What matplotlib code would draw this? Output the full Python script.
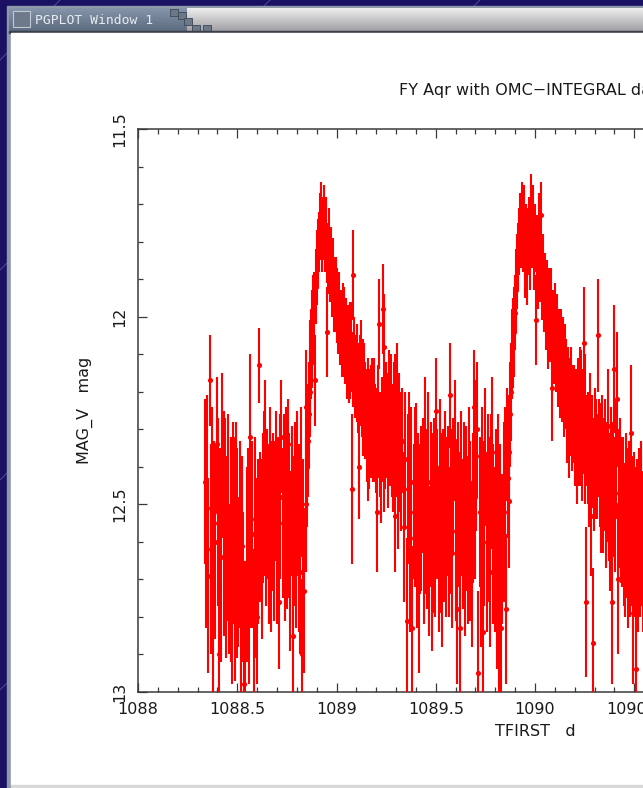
import numpy as np
import matplotlib
matplotlib.use("Agg")
import matplotlib.pyplot as plt
from matplotlib.ticker import MultipleLocator, FixedLocator, FixedFormatter
from matplotlib.patches import Rectangle

# ---------------- data (TFIRST [d], MAG_V [mag], error [mag]) ----------------
low_state_1 = [
    (1088.337, 12.44, 0.22), (1088.343, 12.58, 0.25), (1088.349, 12.51, 0.30), (1088.354, 12.69, 0.26),
    (1088.361, 12.17, 0.12), (1088.366, 12.62, 0.28), (1088.372, 12.48, 0.24), (1088.379, 12.73, 0.30),
    (1088.384, 12.55, 0.22), (1088.390, 12.60, 0.26), (1088.396, 12.34, 0.18), (1088.402, 12.52, 0.25),
    (1088.408, 12.90, 0.20), (1088.413, 12.58, 0.23), (1088.419, 12.64, 0.28), (1088.425, 12.37, 0.22),
    (1088.431, 12.55, 0.30), (1088.437, 12.47, 0.20), (1088.443, 12.66, 0.25), (1088.448, 12.59, 0.22),
    (1088.454, 12.53, 0.27), (1088.460, 12.70, 0.20), (1088.466, 12.62, 0.30), (1088.472, 12.76, 0.22),
    (1088.477, 12.48, 0.20), (1088.483, 12.57, 0.25), (1088.489, 12.77, 0.20), (1088.495, 12.50, 0.22),
    (1088.501, 12.63, 0.28), (1088.506, 12.68, 0.20), (1088.512, 12.58, 0.25), (1088.518, 12.82, 0.22),
    (1088.524, 12.61, 0.24), (1088.530, 12.72, 0.20), (1088.536, 12.98, 0.25), (1088.541, 12.87, 0.22),
    (1088.547, 12.66, 0.26), (1088.553, 12.55, 0.20), (1088.559, 12.74, 0.24), (1088.565, 12.32, 0.22),
    (1088.570, 12.63, 0.20), (1088.576, 12.58, 0.25), (1088.582, 12.82, 0.20), (1088.588, 12.54, 0.22),
    (1088.594, 12.67, 0.24), (1088.600, 12.80, 0.18), (1088.605, 12.60, 0.22), (1088.611, 12.13, 0.10),
    (1088.617, 12.56, 0.20), (1088.623, 12.62, 0.24), (1088.629, 12.51, 0.20), (1088.634, 12.47, 0.22),
    (1088.640, 12.35, 0.18), (1088.646, 12.55, 0.22), (1088.652, 12.50, 0.20), (1088.658, 12.58, 0.24),
    (1088.664, 12.44, 0.20), (1088.669, 12.62, 0.22), (1088.675, 12.53, 0.20), (1088.681, 12.49, 0.18),
    (1088.687, 12.57, 0.24), (1088.693, 12.45, 0.20), (1088.699, 12.60, 0.22), (1088.704, 12.52, 0.20),
    (1088.710, 12.76, 0.18), (1088.716, 12.48, 0.22), (1088.722, 12.32, 0.15), (1088.728, 12.55, 0.20),
    (1088.734, 12.50, 0.24), (1088.739, 12.61, 0.20), (1088.745, 12.46, 0.22), (1088.751, 12.58, 0.20),
    (1088.757, 12.34, 0.12), (1088.763, 12.53, 0.22), (1088.768, 12.65, 0.24), (1088.774, 12.49, 0.20),
    (1088.780, 12.85, 0.22), (1088.786, 12.57, 0.20), (1088.792, 12.52, 0.24), (1088.798, 12.63, 0.20),
    (1088.803, 12.47, 0.22), (1088.809, 12.59, 0.25), (1088.815, 12.68, 0.22), (1088.821, 12.44, 0.20),
    (1088.827, 12.90, 0.20), (1088.833, 12.62, 0.24), (1088.838, 12.73, 0.22),
]

rise_1 = [
    (1088.844, 12.50, 0.18), (1088.847, 12.24, 0.15), (1088.850, 12.40, 0.16), (1088.855, 12.33, 0.15),
    (1088.859, 12.26, 0.14), (1088.864, 12.20, 0.12), (1088.869, 12.15, 0.14), (1088.873, 12.10, 0.12),
    (1088.878, 12.06, 0.13), (1088.883, 12.01, 0.12), (1088.888, 11.98, 0.10), (1088.893, 12.17, 0.12),
    (1088.897, 11.92, 0.10), (1088.902, 11.87, 0.10), (1088.907, 11.83, 0.09), (1088.912, 11.80, 0.08),
    (1088.917, 11.76, 0.09), (1088.922, 11.72, 0.08), (1088.927, 11.78, 0.10),
]

decline_1 = [
    (1088.930, 11.77, 0.08), (1088.935, 11.74, 0.09), (1088.940, 11.80, 0.08), (1088.945, 11.78, 0.10),
    (1088.950, 11.83, 0.08), (1088.953, 12.04, 0.12), (1088.955, 11.85, 0.09), (1088.960, 11.81, 0.10),
    (1088.965, 11.88, 0.08), (1088.970, 11.86, 0.10), (1088.975, 11.91, 0.09), (1088.980, 11.89, 0.10),
    (1088.985, 11.95, 0.09), (1088.990, 11.94, 0.10), (1088.995, 11.92, 0.08), (1089.000, 11.97, 0.10),
    (1089.005, 11.96, 0.09), (1089.010, 12.00, 0.10), (1089.015, 11.99, 0.11), (1089.020, 12.03, 0.10),
    (1089.025, 12.02, 0.09), (1089.030, 12.05, 0.11), (1089.035, 12.01, 0.10), (1089.040, 12.04, 0.12),
    (1089.045, 12.08, 0.10), (1089.050, 12.06, 0.11), (1089.055, 12.10, 0.12), (1089.060, 12.07, 0.10),
    (1089.065, 12.12, 0.11), (1089.070, 12.09, 0.13), (1089.075, 12.08, 0.12), (1089.078, 12.46, 0.20),
    (1089.082, 12.14, 0.10), (1089.085, 11.89, 0.12), (1089.090, 12.12, 0.12), (1089.095, 12.16, 0.11),
    (1089.101, 12.15, 0.13), (1089.106, 12.19, 0.12), (1089.111, 12.40, 0.14), (1089.116, 12.17, 0.12),
    (1089.121, 12.14, 0.13), (1089.126, 12.20, 0.12), (1089.131, 12.23, 0.14), (1089.136, 12.18, 0.12),
    (1089.141, 12.22, 0.15), (1089.146, 12.25, 0.13), (1089.151, 12.26, 0.12), (1089.156, 12.29, 0.15),
    (1089.158, 12.35, 0.14), (1089.161, 12.24, 0.13), (1089.166, 12.32, 0.14), (1089.171, 12.27, 0.13),
    (1089.176, 12.28, 0.15), (1089.181, 12.24, 0.13), (1089.186, 12.30, 0.14), (1089.191, 12.26, 0.15),
    (1089.196, 12.31, 0.13), (1089.201, 12.33, 0.14), (1089.206, 12.52, 0.16), (1089.211, 12.28, 0.15),
    (1089.216, 12.02, 0.12), (1089.221, 12.34, 0.14), (1089.226, 12.40, 0.15), (1089.231, 12.30, 0.14),
    (1089.236, 11.98, 0.12), (1089.238, 12.08, 0.14), (1089.241, 12.37, 0.15), (1089.246, 12.33, 0.13),
    (1089.251, 12.27, 0.15), (1089.256, 12.29, 0.14), (1089.261, 12.35, 0.16), (1089.266, 12.24, 0.15),
    (1089.271, 12.31, 0.14), (1089.276, 12.26, 0.16), (1089.281, 12.33, 0.15), (1089.286, 12.38, 0.14),
    (1089.291, 12.28, 0.16), (1089.293, 12.53, 0.15), (1089.296, 12.25, 0.15), (1089.301, 12.34, 0.14),
    (1089.307, 12.22, 0.15), (1089.312, 12.46, 0.16), (1089.317, 12.30, 0.15), (1089.322, 12.36, 0.16),
    (1089.327, 12.42, 0.15), (1089.332, 12.33, 0.14),
]

low_state_2 = [
    (1089.342, 12.56, 0.20), (1089.347, 12.38, 0.18), (1089.353, 12.81, 0.22), (1089.359, 12.46, 0.20),
    (1089.365, 12.36, 0.16), (1089.370, 12.59, 0.25), (1089.376, 12.44, 0.20), (1089.382, 12.83, 0.22),
    (1089.388, 12.52, 0.18), (1089.393, 12.48, 0.24), (1089.399, 12.43, 0.20), (1089.405, 12.61, 0.22),
    (1089.411, 12.49, 0.18), (1089.416, 12.70, 0.25), (1089.422, 12.54, 0.20), (1089.428, 12.51, 0.22),
    (1089.434, 12.45, 0.18), (1089.439, 12.58, 0.24), (1089.445, 12.36, 0.20), (1089.451, 12.52, 0.22),
    (1089.457, 12.60, 0.18), (1089.462, 12.44, 0.24), (1089.468, 12.65, 0.20), (1089.474, 12.50, 0.22),
    (1089.480, 12.71, 0.18), (1089.485, 12.55, 0.24), (1089.491, 12.47, 0.20), (1089.497, 12.58, 0.22),
    (1089.503, 12.25, 0.14), (1089.508, 12.50, 0.20), (1089.514, 12.62, 0.22), (1089.520, 12.40, 0.18),
    (1089.526, 12.55, 0.24), (1089.531, 12.68, 0.20), (1089.537, 12.52, 0.22), (1089.543, 12.58, 0.18),
    (1089.549, 12.45, 0.20), (1089.554, 12.56, 0.24), (1089.560, 12.49, 0.20), (1089.566, 12.60, 0.20),
    (1089.572, 12.21, 0.14), (1089.577, 12.52, 0.22), (1089.583, 12.63, 0.20), (1089.589, 12.45, 0.18),
    (1089.595, 12.33, 0.16), (1089.600, 12.57, 0.24), (1089.606, 12.78, 0.20), (1089.612, 12.50, 0.22),
    (1089.618, 12.54, 0.18), (1089.623, 12.83, 0.20), (1089.629, 12.47, 0.22), (1089.635, 12.58, 0.20),
    (1089.641, 12.52, 0.24), (1089.646, 12.63, 0.22), (1089.652, 12.49, 0.20), (1089.658, 12.55, 0.18),
    (1089.664, 12.60, 0.22), (1089.669, 12.44, 0.20), (1089.675, 12.57, 0.24), (1089.681, 12.66, 0.22),
    (1089.687, 12.51, 0.20), (1089.692, 12.24, 0.15), (1089.698, 12.48, 0.22), (1089.704, 12.37, 0.20),
    (1089.710, 12.30, 0.18), (1089.715, 12.95, 0.22), (1089.721, 12.52, 0.20), (1089.727, 12.66, 0.22),
    (1089.733, 12.48, 0.24), (1089.738, 12.84, 0.20), (1089.744, 12.55, 0.22), (1089.750, 12.37, 0.18),
    (1089.756, 12.60, 0.24), (1089.761, 12.46, 0.20), (1089.767, 12.54, 0.22), (1089.773, 12.68, 0.20),
    (1089.779, 12.44, 0.18), (1089.784, 12.36, 0.20), (1089.790, 12.58, 0.24), (1089.796, 12.62, 0.22),
    (1089.802, 12.50, 0.20), (1089.807, 12.72, 0.22), (1089.813, 12.44, 0.18), (1089.819, 12.80, 0.22),
    (1089.825, 12.54, 0.20), (1089.830, 12.83, 0.22), (1089.836, 12.62, 0.20), (1089.842, 12.52, 0.24),
    (1089.848, 12.46, 0.22), (1089.853, 12.78, 0.20),
]

rise_2 = [
    (1089.859, 12.34, 0.15), (1089.863, 12.43, 0.16), (1089.867, 12.36, 0.15), (1089.871, 12.49, 0.18),
    (1089.876, 12.26, 0.14), (1089.881, 12.20, 0.13), (1089.886, 12.10, 0.12), (1089.891, 12.07, 0.12),
    (1089.895, 12.04, 0.12), (1089.899, 11.99, 0.10), (1089.904, 11.93, 0.11), (1089.908, 11.88, 0.10),
    (1089.912, 11.84, 0.09), (1089.917, 11.80, 0.09), (1089.922, 11.75, 0.08), (1089.927, 11.78, 0.09),
    (1089.932, 11.72, 0.08), (1089.937, 11.76, 0.09), (1089.942, 11.80, 0.08), (1089.947, 11.74, 0.09),
    (1089.952, 11.85, 0.10), (1089.957, 11.78, 0.08), (1089.962, 11.87, 0.10), (1089.967, 11.80, 0.09),
    (1089.972, 11.76, 0.08), (1089.977, 11.83, 0.10), (1089.982, 11.71, 0.09),
]

decline_2 = [
    (1089.987, 11.78, 0.09), (1089.991, 11.73, 0.08), (1089.995, 11.83, 0.10), (1090.000, 11.79, 0.09),
    (1090.005, 12.01, 0.12), (1090.010, 11.82, 0.09), (1090.015, 11.88, 0.10), (1090.020, 11.75, 0.08),
    (1090.025, 11.86, 0.10), (1090.030, 11.73, 0.09), (1090.035, 11.91, 0.10), (1090.040, 11.89, 0.11),
    (1090.045, 11.94, 0.10), (1090.050, 11.92, 0.09), (1090.055, 11.98, 0.11), (1090.060, 11.95, 0.10),
    (1090.065, 12.03, 0.11), (1090.070, 11.99, 0.12), (1090.075, 12.02, 0.10), (1090.080, 11.98, 0.11),
    (1090.085, 12.19, 0.14), (1090.090, 12.04, 0.11), (1090.095, 12.06, 0.12), (1090.101, 12.01, 0.10),
    (1090.106, 12.08, 0.12), (1090.111, 12.05, 0.11), (1090.116, 12.12, 0.12), (1090.121, 12.09, 0.11),
    (1090.126, 12.14, 0.13), (1090.131, 12.10, 0.12), (1090.136, 12.16, 0.12), (1090.141, 12.13, 0.13),
    (1090.146, 12.20, 0.12), (1090.151, 12.15, 0.13), (1090.156, 12.18, 0.12), (1090.161, 12.25, 0.14),
    (1090.166, 12.21, 0.13), (1090.171, 12.29, 0.14), (1090.176, 12.24, 0.13), (1090.181, 12.20, 0.12),
    (1090.186, 12.27, 0.14), (1090.191, 12.26, 0.13), (1090.196, 12.25, 0.12), (1090.201, 12.31, 0.14),
    (1090.206, 12.29, 0.15), (1090.211, 12.36, 0.14), (1090.216, 12.24, 0.13), (1090.221, 12.30, 0.15),
    (1090.226, 12.22, 0.14), (1090.231, 12.27, 0.18), (1090.236, 12.34, 0.15), (1090.241, 12.28, 0.14),
    (1090.246, 12.07, 0.15), (1090.251, 12.30, 0.20), (1090.256, 12.76, 0.20), (1090.261, 12.33, 0.12),
    (1090.266, 12.35, 0.15), (1090.271, 12.40, 0.16), (1090.276, 12.29, 0.14), (1090.281, 12.53, 0.16),
    (1090.286, 12.36, 0.15), (1090.291, 12.87, 0.20), (1090.296, 12.42, 0.15), (1090.301, 12.33, 0.14),
    (1090.307, 12.38, 0.16), (1090.312, 12.40, 0.14), (1090.317, 12.05, 0.15), (1090.322, 12.35, 0.13),
    (1090.327, 12.40, 0.16), (1090.332, 12.43, 0.20), (1090.337, 12.36, 0.15), (1090.342, 12.47, 0.16),
    (1090.347, 12.42, 0.15), (1090.352, 12.38, 0.16), (1090.357, 12.50, 0.17), (1090.362, 12.44, 0.16),
    (1090.367, 12.29, 0.15), (1090.372, 12.48, 0.17), (1090.377, 12.55, 0.18), (1090.382, 12.40, 0.16),
    (1090.387, 12.76, 0.22), (1090.392, 12.46, 0.18), (1090.397, 12.14, 0.17), (1090.402, 12.50, 0.18),
    (1090.407, 12.38, 0.16), (1090.412, 12.22, 0.18), (1090.417, 12.70, 0.20), (1090.422, 12.47, 0.17),
    (1090.427, 12.47, 0.20), (1090.432, 12.53, 0.18), (1090.437, 12.52, 0.20), (1090.442, 12.50, 0.18),
    (1090.447, 12.58, 0.19), (1090.452, 12.62, 0.18), (1090.457, 12.48, 0.17), (1090.462, 12.55, 0.20),
    (1090.467, 12.65, 0.18), (1090.472, 12.52, 0.19), (1090.477, 12.60, 0.20), (1090.482, 12.31, 0.18),
    (1090.487, 12.57, 0.20), (1090.492, 12.79, 0.19), (1090.497, 12.54, 0.18), (1090.502, 12.60, 0.20),
    (1090.507, 12.94, 0.19), (1090.512, 12.58, 0.20), (1090.517, 12.66, 0.18), (1090.522, 12.55, 0.20),
    (1090.527, 12.61, 0.19), (1090.532, 12.53, 0.20), (1090.537, 12.59, 0.18), (1090.542, 12.64, 0.20),
    (1090.547, 12.56, 0.19),
]

segments = [low_state_1, rise_1, decline_1, low_state_2, rise_2, decline_2]

x_major = [1088, 1088.5, 1089, 1089.5, 1090, 1090.5, 1091, 1091.5, 1092]
x_labels = ["1088", "1088.5", "1089", "1089.5", "1090", "1090.5", "1091", "1091.5", "1092"]
y_major = [11.5, 12, 12.5, 13]
y_labels = ["11.5", "12", "12.5", "13"]

title_text = "FY Aqr with OMC\u2212INTEGRAL data"
xlabel_text = "TFIRST   d"
ylabel_text = "MAG_V   mag"
window_title = "PGPLOT Window 1"

# ---------------- figure ----------------
W, H = 643, 788
fig = plt.figure(figsize=(W / 100, H / 100), dpi=100)

# window decoration in pixel coordinates
bg = fig.add_axes([0, 0, 1, 1], zorder=0)
bg.set_xlim(0, W)
bg.set_ylim(H, 0)
bg.axis("off")
bg.add_patch(Rectangle((0, 0), W, H, color="#1b1163", zorder=0))
for k in range(-6, 8):
    x0 = k * 210
    bg.plot([x0, x0 + 900], [900, 0], color="#4c4aa0", lw=0.7, zorder=0.5)
# frame
bg.add_patch(Rectangle((7, 6), W, H, color="#8d99a8", zorder=1))
# title bar gradient
bar_h, bar_w = 24, W - 9
rows = np.linspace(0, 1, bar_h)[:, None]
cols = np.arange(bar_w)[None, :]
left_top = np.array([0.52, 0.58, 0.66])
left_bot = np.array([0.36, 0.42, 0.50])
right_top = np.array([0.93, 0.93, 0.93])
right_bot = np.array([0.62, 0.62, 0.64])
left = left_top[None, None, :] * (1 - rows[..., None]) + left_bot[None, None, :] * rows[..., None]
right = right_top[None, None, :] * (1 - rows[..., None]) + right_bot[None, None, :] * rows[..., None]
mask = (cols >= 178)[..., None]
img = np.where(mask, right, left) * np.ones((bar_h, bar_w, 1))
bg.imshow(img, extent=[9, W, 32, 8], aspect="auto", zorder=2, interpolation="bilinear")
# stepped decoration
for (sx, sy) in [(170, 9), (178, 12), (184, 18), (192, 25), (203, 25)]:
    bg.add_patch(Rectangle((sx, sy), 8, 7, facecolor="#6b7888", edgecolor="#3e4856", lw=0.6, zorder=3))
# icon
bg.add_patch(Rectangle((13, 11), 17, 16, facecolor="#6c7a8c", edgecolor="#c0c8d4", lw=0.8, zorder=3))
bg.text(35, 20, window_title, fontsize=9.4, family="DejaVu Sans Mono", color="#e8ecf0",
        va="center", ha="left", zorder=4)
bg.add_patch(Rectangle((9, 31), W, 2, color="#3a3f48", zorder=3))
# content area
bg.add_patch(Rectangle((11, 33), W, 752, color="#ffffff", zorder=3))
bg.add_patch(Rectangle((11, 785), W, 3, color="#d8d8d8", zorder=3))

# ---------------- plot axes ----------------
ax_left, ax_right, ax_top, ax_bottom = 138, 932, 129, 692
ax = fig.add_axes([ax_left / W, 1 - ax_bottom / H, (ax_right - ax_left) / W, (ax_bottom - ax_top) / H],
                  zorder=5)
ax.set_facecolor("white")

t = np.array([p[0] for s in segments for p in s])
m = np.array([p[1] for s in segments for p in s])
e = np.array([p[2] for s in segments for p in s])

ax.errorbar(t, m, yerr=e, fmt="o", color="#ff0000", ecolor="#ff0000", ms=3.7, mew=0,
            elinewidth=1.5, capsize=0, zorder=3)

ax.set_xlim(1088, 1092)
ax.set_ylim(13, 11.5)

ax.xaxis.set_major_locator(FixedLocator(x_major))
ax.xaxis.set_major_formatter(FixedFormatter(x_labels))
ax.xaxis.set_minor_locator(MultipleLocator(0.1))
ax.yaxis.set_major_locator(FixedLocator(y_major))
ax.yaxis.set_major_formatter(FixedFormatter(y_labels))
ax.yaxis.set_minor_locator(MultipleLocator(0.1))

for sp in ax.spines.values():
    sp.set_color("#3a3a3a")
    sp.set_linewidth(1.1)
ax.tick_params(which="both", direction="in", top=True, right=True, color="#3a3a3a", width=0.9,
               labelsize=11.5, labelcolor="#1a1a1a")
ax.tick_params(which="major", length=6.5)
ax.tick_params(which="minor", length=3.3)
ax.tick_params(axis="x", pad=7)
ax.tick_params(axis="y", pad=8)
for lab in ax.get_yticklabels():
    lab.set_rotation(90)
    lab.set_va("center")
    lab.set_ha("right")

fig.text(533 / W, 1 - 91 / H, title_text, ha="center", va="center", fontsize=11.5, color="#1a1a1a",
         zorder=6)
fig.text(535 / W, 1 - 731 / H, xlabel_text, ha="center", va="center", fontsize=11.5, color="#1a1a1a",
         zorder=6)
fig.text(85 / W, 1 - 410 / H, ylabel_text, ha="center", va="center", rotation=90, fontsize=11.5,
         color="#1a1a1a", zorder=6)

fig.savefig("out.png", dpi=100)
